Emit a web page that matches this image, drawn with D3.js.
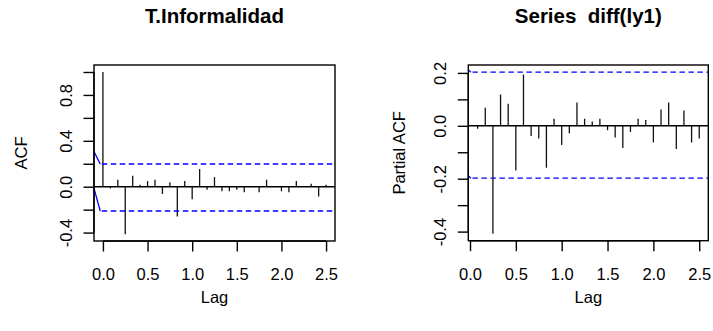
<!DOCTYPE html>
<html><head><meta charset="utf-8">
<script src="https://cdn.jsdelivr.net/npm/d3@7"></script>
<style>
body{margin:0;background:#fff}
text{font-family:"Liberation Sans",Arial,sans-serif;fill:#000}
</style>
</head><body>
<svg id="chart" width="713" height="331"></svg>
<script>
// ---- data ----
const lagFrequency = 12;
const acfLagMonths = [0,1,2,3,4,5,6,7,8,9,10,11,12,13,14,15,16,17,18,19,20,21,22,23,24,25,26,27,28,29,30];
const acfValues = [1.0,-0.015,0.061,-0.415,0.096,0.017,0.049,0.061,-0.063,0.039,-0.259,0.049,-0.109,0.154,-0.027,0.084,-0.04,-0.039,-0.027,-0.049,0.004,-0.049,0.061,0.004,-0.04,-0.049,0.049,0.003,0.026,-0.086,0.016];
const pacfLagMonths = [1,2,3,4,5,6,7,8,9,10,11,12,13,14,15,16,17,18,19,20,21,22,23,24,25,26,27,28,29,30];
const pacfValues = [-0.011,0.068,-0.408,0.118,0.083,-0.169,0.194,-0.039,-0.048,-0.159,0.027,-0.073,-0.028,0.088,0.027,0.016,0.027,-0.017,-0.044,-0.084,-0.023,0.027,0.022,-0.063,0.062,0.088,-0.088,0.058,-0.063,-0.048];
const acfBand = {upper:0.198, lower:-0.212, upperStart:0.307, lowerStart:-0.015};
const pacfBand = {upper:0.2026, lower:-0.198, upperStart:0.212, lowerStart:-0.189};
const xTicks = [0,0.5,1,1.5,2,2.5];
const xTickLabels = ["0.0","0.5","1.0","1.5","2.0","2.5"];
const acfYTicks = [-0.4,-0.2,0,0.2,0.4,0.6,0.8,1.0];
const acfYLabels = ["-0.4","","0.0","","0.4","","0.8",""];
const pacfYTicks = [-0.4,-0.3,-0.2,-0.1,0,0.1,0.2];
const pacfYLabels = ["-0.4","","-0.2","","0.0","","0.2"];
const titles = ["T.Informalidad","Series  diff(ly1)"];
const yTitles = ["ACF","Partial ACF"];
const xTitle = "Lag";

const svg = d3.select("#chart");
svg.append("rect").attr("width",713).attr("height",331).attr("fill","#fff");

function panel(cfg){
  const g = svg.append("g");
  const x = d3.scaleLinear().domain(cfg.xDomain).range([cfg.left,cfg.right]);
  const y = d3.scaleLinear().domain(cfg.yDomain).range([cfg.bottom,cfg.top]);
  const clipId = "clip"+cfg.id;
  svg.append("clipPath").attr("id",clipId).append("rect")
    .attr("x",cfg.left).attr("y",cfg.top).attr("width",cfg.right-cfg.left).attr("height",cfg.bottom-cfg.top);
  const inner = g.append("g").attr("clip-path",`url(#${clipId})`);
  // zero line
  inner.append("line").attr("x1",cfg.left).attr("x2",cfg.right)
    .attr("y1",y(0)).attr("y2",y(0)).attr("stroke","#000").attr("stroke-width",1.4);
  // spikes
  inner.selectAll("line.spike").data(cfg.lags.map((l,i)=>({lag:l/lagFrequency,v:cfg.values[i]})))
    .join("line").attr("class","spike")
    .attr("x1",d=>x(d.lag)).attr("x2",d=>x(d.lag))
    .attr("y1",y(0)).attr("y2",d=>y(d.v))
    .attr("stroke","#111").attr("stroke-width",1.3);
  // confidence bands
  const b = cfg.band;
  const xStart = cfg.bandStartLag;
  [[b.upperStart,b.upper],[b.lowerStart,b.lower]].forEach(([s,v])=>{
    inner.append("line").attr("x1",x(cfg.xDomain[0])).attr("y1",y(s))
      .attr("x2",x(xStart)).attr("y2",y(v))
      .attr("stroke","#0000ff").attr("stroke-width",1.3);
    inner.append("line").attr("x1",x(xStart)).attr("x2",cfg.right)
      .attr("y1",y(v)).attr("y2",y(v))
      .attr("stroke","#0000ff").attr("stroke-width",1.3)
      .attr("stroke-dasharray","5.5,3.5").attr("stroke-dashoffset",-1.5);
  });
  // box
  g.append("rect").attr("x",cfg.left).attr("y",cfg.top)
    .attr("width",cfg.right-cfg.left).attr("height",cfg.bottom-cfg.top)
    .attr("fill","none").attr("stroke","#000").attr("stroke-width",1.4);
  // x axis
  const xa = g.append("g").attr("transform",`translate(0,${cfg.bottom})`)
    .call(d3.axisBottom(x).tickValues(xTicks).tickSize(10.5).tickSizeOuter(0)
      .tickFormat((d,i)=>xTickLabels[i]));
  xa.select(".domain").attr("d",`M${x(xTicks[0])},0H${x(xTicks[xTicks.length-1])}`).attr("stroke-width",1.4);
  xa.selectAll(".tick line").attr("stroke-width",1.4);
  xa.selectAll(".tick text").attr("y",39).attr("dy",null).attr("font-size",16.5)
    .attr("font-family","Liberation Sans, Arial, sans-serif");
  // y axis
  const ya = g.append("g").attr("transform",`translate(${cfg.left},0)`)
    .call(d3.axisLeft(y).tickValues(cfg.yTicks).tickSize(10.5).tickSizeOuter(0)
      .tickFormat((d,i)=>cfg.yLabels[i]));
  ya.select(".domain").attr("d",`M0,${y(cfg.yTicks[0])}V${y(cfg.yTicks[cfg.yTicks.length-1])}`).attr("stroke-width",1.4);
  ya.selectAll(".tick line").attr("stroke-width",1.4);
  ya.selectAll(".tick text").attr("x",null).attr("dy",null)
    .attr("transform","translate(-22.5,0) rotate(-90)")
    .attr("text-anchor","middle").attr("font-size",16.5)
    .attr("font-family","Liberation Sans, Arial, sans-serif");
  // titles
  const cx = (cfg.left+cfg.right)/2, cy = (cfg.top+cfg.bottom)/2;
  g.append("text").attr("x",cx).attr("y",23.3).attr("text-anchor","middle")
    .attr("font-size",20.5).attr("font-weight","bold").style("white-space","pre")
    .text(cfg.title);
  g.append("text").attr("x",cx).attr("y",303).attr("text-anchor","middle")
    .attr("font-size",16.5).text(xTitle);
  g.append("text").attr("transform",`translate(${cfg.yTitleX},${cy}) rotate(-90)`)
    .attr("text-anchor","middle").attr("font-size",16.5).text(cfg.yTitle);
}

panel({id:"a", left:94, right:335, top:65, bottom:241,
  xDomain:[-0.1,2.6], yDomain:[-0.4734,1.061],
  lags:acfLagMonths, values:acfValues, band:acfBand, bandStartLag:-0.03,
  yTicks:acfYTicks, yLabels:acfYLabels, title:titles[0], yTitle:yTitles[0], yTitleX:27});
panel({id:"b", left:468.3, right:708.3, top:65, bottom:240.7,
  xDomain:[-0.0185,2.599], yDomain:[-0.4344,0.2299],
  lags:pacfLagMonths, values:pacfValues, band:pacfBand, bandStartLag:0.01,
  yTicks:pacfYTicks, yLabels:pacfYLabels, title:titles[1], yTitle:yTitles[1], yTitleX:405});
</script>
</body></html>
